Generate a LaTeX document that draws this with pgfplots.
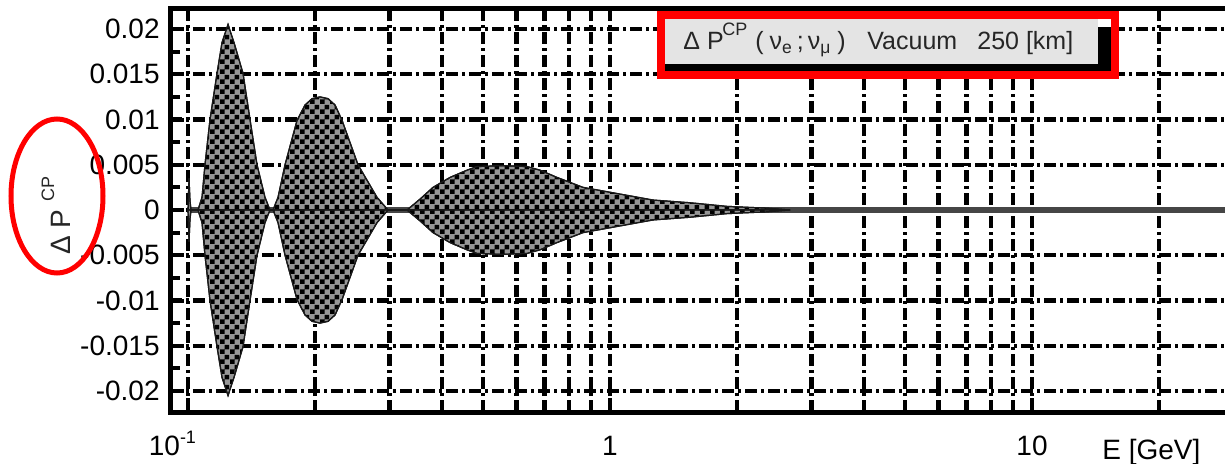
\documentclass[border=0pt]{standalone}
\usepackage{fontspec}
\setmainfont{Liberation Sans}
\usepackage{pgfplots}
\pgfplotsset{compat=1.18}
\usepackage{pgfplotstable}
\usetikzlibrary{patterns}

\definecolor{boxgray}{RGB}{228,228,228}
\definecolor{zeroline}{RGB}{70,70,70}
\definecolor{lobegray}{RGB}{150,150,150}

% checker used for the band
\pgfdeclarepatternformonly{finecheck}{\pgfpointorigin}{\pgfqpoint{5pt}{5pt}}{\pgfqpoint{5pt}{5pt}}{%
  \pgfpathrectangle{\pgfpointorigin}{\pgfqpoint{2.5pt}{2.5pt}}%
  \pgfpathrectangle{\pgfqpoint{2.5pt}{2.5pt}}{\pgfqpoint{2.5pt}{2.5pt}}%
  \pgfusepath{fill}}

% envelope of Delta P^CP (upper half, the band is symmetric)
\pgfplotstableread{
E        A
0.10000  0
0.10055  0.0035
0.10110  0.0010
0.10165  0
0.10561  0
0.10794  0.0014
0.10971  0.0050
0.11275  0.0100
0.11715  0.0151
0.12039  0.0185
0.12441  0.0205
0.12854  0.0185
0.13501  0.0151
0.14027  0.0100
0.14574  0.0050
0.15223  0.0014
0.15644  0
0.15903  0
0.16342  0.0014
0.16979  0.0050
0.18128  0.0099
0.18937  0.0116
0.19676  0.0123
0.20555  0.0125
0.21472  0.0123
0.22308  0.0116
0.23177  0.0099
0.25284  0.0050
0.28047  0.0014
0.29783  0
0.33039  0
0.35465  0.0012
0.38076  0.0025
0.41767  0.0036
0.45830  0.0044
0.48398  0.0048
0.55468  0.0049
0.63589  0.0048
0.68251  0.0044
0.74900  0.0036
0.86299  0.0025
1.01650  0.0019
1.26460  0.0011
1.54700  0.0008
1.89350  0.0004
2.35560  0.0002
2.67070  0
}\envtab

\begin{document}
\begin{tikzpicture}
\begin{axis}[
    at={(85pt,-206pt)}, anchor=south west,
    scale only axis,
    width=527.5pt, height=201.5pt,
    xmode=log, log basis x=10,
    xmin=0.09064, xmax=28.66,
    ymin=-0.02232, ymax=0.02221,
    axis line style={draw=none},
    tick pos=left,
    xtick={0.1,1,10},
    minor xtick={0.2,0.3,0.4,0.5,0.6,0.7,0.8,0.9,2,3,4,5,6,7,8,9,20},
    xticklabels={\makebox[0pt][r]{10}\raisebox{6pt}{\fontsize{9}{10}\selectfont -1},1,10},
    ytick={-0.02,-0.015,-0.01,-0.005,0,0.005,0.01,0.015,0.02},
    yticklabels={-0.02,-0.015,-0.01,-0.005,0,0.005,0.01,0.015,0.02},
    minor y tick num=1,
    scaled y ticks=false,
    xmajorgrids, xminorgrids, ymajorgrids,
    major grid style={black, line width=2.2pt, dash pattern=on 6pt off 2pt on 1.5pt off 2pt},
    minor grid style={black, line width=2.2pt, dash pattern=on 6pt off 2pt on 1.5pt off 2pt},
    major tick length=7pt, minor tick length=5pt,
    tick style={black, line width=2pt},
    ticklabel style={font=\fontsize{14}{16}\selectfont, inner sep=0pt},
    yticklabel style={xshift=-5pt},
    xticklabel style={anchor=base, yshift=-21.5pt},
]
\addplot[zeroline, line width=3pt] coordinates {(0.1,0) (28.66,0)};
\addplot[draw=black!90, line width=0.6pt, fill=lobegray,
    postaction={pattern=finecheck, pattern color=black}]
    table[x=E, y=A] {\envtab} \closedcycle;
\addplot[draw=black!90, line width=0.6pt, fill=lobegray,
    postaction={pattern=finecheck, pattern color=black}]
    table[x=E, y expr=-\thisrow{A}] {\envtab} \closedcycle;
\end{axis}

\begin{scope}[x=0.5pt, y=-0.5pt]
  % frame: left, top, bottom (the right side is cut off)
  \draw[line width=2.5pt, line join=miter] (1230,9) -- (170,9) -- (170,412) -- (1230,412);
  % axis titles
  \node[anchor=base west, inner sep=0pt, font=\fontsize{14}{16}\selectfont] at (1102,459) {E [GeV]};
  \node[rotate=90, anchor=base west, inner sep=0pt, font=\fontsize{14}{16}\selectfont, text=black!85]
    at (70,255) {Δ P\hspace{4pt}\raisebox{8pt}{\fontsize{9}{10}\selectfont CP}};
  \draw[red, line width=2.5pt] (57,196) ellipse [x radius=23pt, y radius=38.5pt];
  % title box
  \fill[black] (665,27) rectangle (1111,71);
  \fill[boxgray] (665,19) rectangle (1098,64);
  \draw[red, line width=4pt] (661,15) rectangle (1115,75);
  \begin{scope}[every node/.style={anchor=base west, inner sep=0pt, text=black!85,
      font=\fontsize{12.5}{14}\selectfont}]
    \node at (683,50) {Δ P};
    \node at (722,36) {\fontsize{9}{10}\selectfont CP};
    \node at (755,50) {(\hspace{3pt}ν\textsubscript{e}\hspace{2pt};\hspace{2pt}ν\textsubscript{μ}\hspace{3pt})};
    \node at (867,50) {Vacuum};
    \node at (977,50) {250 [km]};
  \end{scope}
  \pgfresetboundingbox
  \path[use as bounding box] (0,0) rectangle (1225,464);
\end{scope}
\end{tikzpicture}
\end{document}
